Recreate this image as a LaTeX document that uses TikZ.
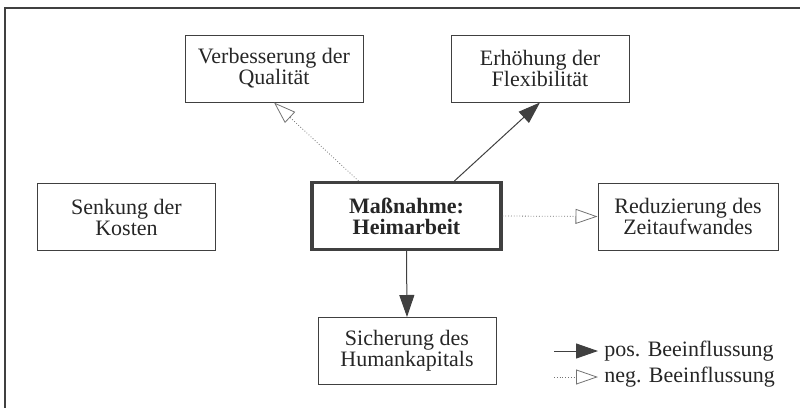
\documentclass[tikz,border=0pt]{standalone}
\usepackage{fontspec}
\setmainfont{Liberation Serif}
\usetikzlibrary{arrows.meta}
\tikzset{
  effect/.style={draw=black!75, line width=0.5pt, text=black!85, align=center,
    minimum width=89pt, minimum height=33.5pt, inner sep=0pt,
    font=\fontsize{11}{10.5}\selectfont},
  measure/.style={effect, line width=1.6pt, minimum width=94.5pt, font=\fontsize{11}{10.5}\selectfont\bfseries},
  posinfl/.style={draw=black!75, line width=0.5pt, -{Triangle[length=11pt,width=7.5pt]}},
  neginfl/.style={draw=black!55, line width=0.4pt, densely dotted, -{Triangle[open,length=11pt,width=7.5pt]}},
  legendtext/.style={anchor=west, inner sep=0pt, text=black!85, font=\fontsize{11}{10.5}\selectfont}
}
\begin{document}
\begin{tikzpicture}[x=0.5pt, y=-0.5pt]
\useasboundingbox (0,0) rectangle (800,408);
%% outer frame, cut off at the right and the bottom
    \draw[black!75, line width=1pt] (5,820) -- (5,8) -- (820,8);
%% the boxes
    \node[effect] (verb) at (274,68.5) {Verbesserung der\\Qualität};
    \node[effect] (erh) at (540,68.5) {Erhöhung der\\Flexibilität};
    \node[effect] (senk) at (126.5,217) {Senkung der\\Kosten};
    \node[measure] (mass) at (406.5,216) {Maßnahme:\\Heimarbeit};
    \node[effect, minimum width=90pt] (red) at (688,216.5) {Reduzierung des\\Zeitaufwandes};
    \node[effect] (sich) at (407,351) {Sicherung des\\Humankapitals};
%% the influences
    \draw[neginfl] ([xshift=-24pt]mass.north) -- (verb.south);
    \draw[posinfl] ([xshift=24pt]mass.north) -- (erh.south);
    \draw[neginfl] (mass.east) -- (red.west);
    \draw[posinfl] (mass.south) -- (sich.north);
%% legend
    \coordinate (posstart) at (554,351);
    \coordinate (negstart) at (554,377);
    \node[legendtext] (postext) at (604,351) {pos. Beeinflussung};
    \node[legendtext] (negtext) at (604,377) {neg. Beeinflussung};
    \draw[posinfl] (posstart) -- ([xshift=-3pt]postext.west);
    \draw[neginfl] (negstart) -- ([xshift=-3pt]negtext.west);
\end{tikzpicture}
\end{document}
